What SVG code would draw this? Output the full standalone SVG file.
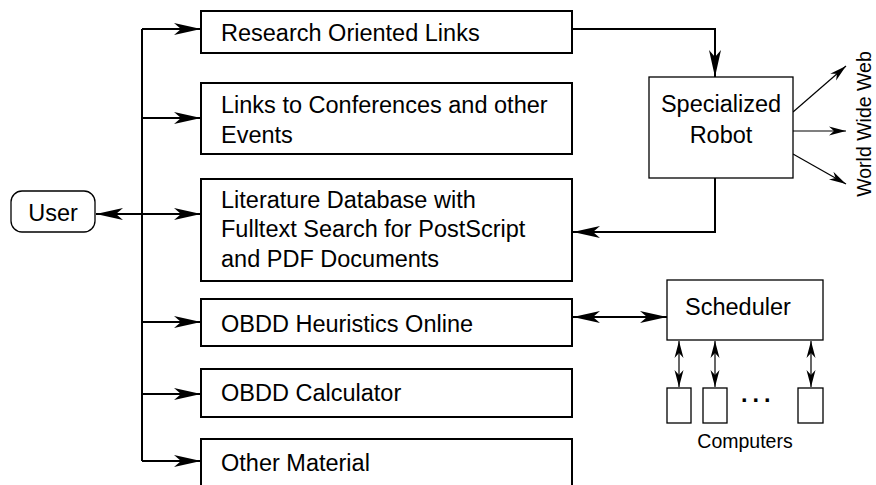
<svg xmlns="http://www.w3.org/2000/svg" width="876" height="485" viewBox="0 0 876 485">
<style>
  .box { fill: #fff; stroke: #000; stroke-width: 2; }
  .tbox { fill: #fff; stroke: #000; stroke-width: 1.3; }
  .t { font-family: "Liberation Sans", Arial, Helvetica, sans-serif; font-size: 23.5px; fill: #000; }
  .ts { font-family: "Liberation Sans", Arial, Helvetica, sans-serif; font-size: 19.5px; fill: #000; }
  .c { fill: none; stroke: #000; stroke-width: 2; marker-end: url(#ah); }
  .cn { fill: none; stroke: #000; stroke-width: 2; }
  .cd { fill: none; stroke: #000; stroke-width: 2; marker-start: url(#ah); marker-end: url(#ah); }
  .thin { fill: none; stroke: #000; stroke-width: 1.2; marker-end: url(#ahs); }
  .thind { fill: none; stroke: #000; stroke-width: 1.2; marker-start: url(#ahs); marker-end: url(#ahs); }
</style>
<defs>
  <marker id="ah" markerUnits="userSpaceOnUse" viewBox="-28 -7 29 14" refX="0" refY="0" markerWidth="29" markerHeight="14" orient="auto-start-reverse">
    <path d="M0,0 L-27,-6 L-20,0 L-27,6 Z" fill="#000"/>
  </marker>
  <marker id="ahs" markerUnits="userSpaceOnUse" viewBox="-18 -6 19 12" refX="0" refY="0" markerWidth="19" markerHeight="12" orient="auto-start-reverse">
    <path d="M0,0 L-17,-4.5 L-12,0 L-17,4.5 Z" fill="#000"/>
  </marker>
</defs>

<g id="connectors">
  <path class="cn" d="M142,29 V461"/>
  <path class="c" d="M142,29 H201"/>
  <path class="c" d="M142,118 H201"/>
  <path class="cd" d="M96,214 H201"/>
  <path class="c" d="M142,322 H201"/>
  <path class="c" d="M142,394 H201"/>
  <path class="c" d="M142,461 H201"/>
  <path class="c" d="M572,29 H715 V77"/>
  <path class="c" d="M715,178 V232 H573"/>
  <path class="cd" d="M573,317 H667"/>
  <path class="thin" d="M793,112 L846,66"/>
  <path class="thin" d="M793,131 H846"/>
  <path class="thin" d="M793,154 L846,184"/>
  <path class="thind" d="M679,341 V387"/>
  <path class="thind" d="M715,341 V387"/>
  <path class="thind" d="M811,341 V387"/>
</g>

<g id="user">
  <rect class="tbox" x="11" y="191" width="84" height="41" rx="11" ry="11"/>
  <text class="t" x="53" y="221" text-anchor="middle">User</text>
</g>

<g id="research">
  <rect class="box" x="201" y="11" width="371" height="42"/>
  <text class="t" x="221" y="41">Research Oriented Links</text>
</g>

<g id="conferences">
  <rect class="box" x="201" y="83" width="371" height="71"/>
  <text class="t" x="221" y="113">Links to Conferences and other</text>
  <text class="t" x="221" y="143">Events</text>
</g>

<g id="literature">
  <rect class="box" x="201" y="179" width="371" height="102"/>
  <text class="t" x="221" y="208">Literature Database with</text>
  <text class="t" x="221" y="237">Fulltext Search for PostScript</text>
  <text class="t" x="221" y="267">and PDF Documents</text>
</g>

<g id="heuristics">
  <rect class="box" x="201" y="299" width="371" height="47"/>
  <text class="t" x="221" y="332">OBDD Heuristics Online</text>
</g>

<g id="calculator">
  <rect class="box" x="201" y="369" width="371" height="48"/>
  <text class="t" x="221" y="401">OBDD Calculator</text>
</g>

<g id="other">
  <rect class="box" x="201" y="439" width="371" height="60"/>
  <text class="t" x="221" y="471">Other Material</text>
</g>

<g id="robot">
  <rect class="tbox" x="649" y="77" width="144" height="101"/>
  <text class="t" x="721" y="112" text-anchor="middle">Specialized</text>
  <text class="t" x="721" y="143" text-anchor="middle">Robot</text>
</g>

<g id="www">
  <text class="ts" transform="translate(871,124) rotate(-90)" text-anchor="middle">World Wide Web</text>
</g>

<g id="scheduler">
  <rect class="tbox" x="667" y="280" width="156" height="60"/>
  <text class="t" x="685" y="315">Scheduler</text>
</g>

<g id="computers">
  <rect class="tbox" x="667" y="388" width="24" height="35"/>
  <rect class="tbox" x="703" y="388" width="24" height="35"/>
  <rect class="tbox" x="798" y="388" width="25" height="35"/>
  <text class="t" x="741" y="402" font-weight="bold" letter-spacing="5">...</text>
  <text class="ts" x="745" y="448" text-anchor="middle">Computers</text>
</g>
</svg>
